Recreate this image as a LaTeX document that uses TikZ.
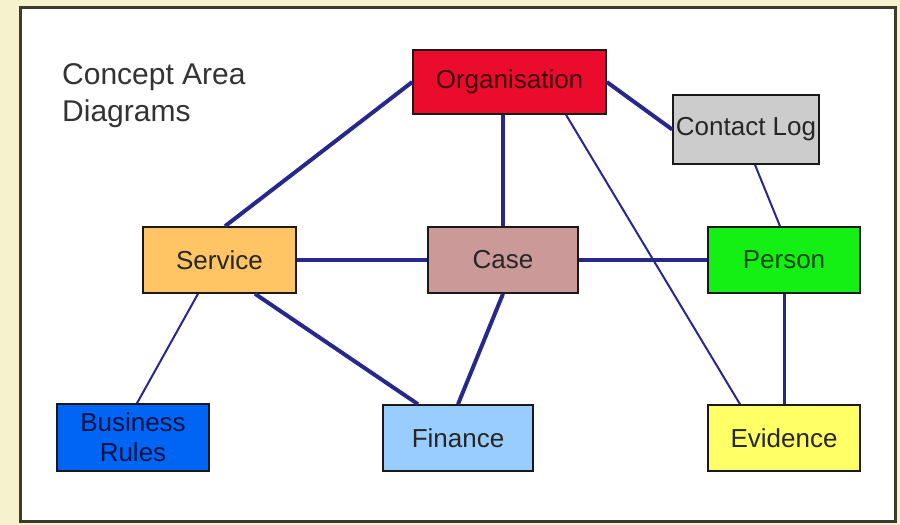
\documentclass[tikz,border=0pt]{standalone}
\usepackage{fontspec}
\setmainfont{Liberation Sans}
\definecolor{bgyellow}{RGB}{246,242,205}
\definecolor{framec}{RGB}{60,60,45}
\definecolor{navy}{RGB}{40,40,140}
\definecolor{orgred}{RGB}{235,12,45}
\definecolor{clgray}{RGB}{204,204,204}
\definecolor{svcorange}{RGB}{255,196,100}
\definecolor{caserose}{RGB}{204,153,153}
\definecolor{pergreen}{RGB}{20,240,20}
\definecolor{brblue}{RGB}{0,100,245}
\definecolor{finblue}{RGB}{153,204,255}
\definecolor{eviyellow}{RGB}{255,255,102}
\begin{document}
\begin{tikzpicture}[x=1pt,y=-1pt,
  box/.style={draw=black!90, line width=1.6pt, inner sep=0pt, align=center,
    font=\fontsize{26}{30}\selectfont, text=black!85},
  link/.style={draw=navy, line width=4pt},
  thinlink/.style={draw=navy, line width=2pt},
  midlink/.style={draw=navy, line width=3pt}]
% background and frame
\fill[bgyellow] (0,0) rectangle (900,525);
\draw[framec, line width=3pt, fill=white] (20,7) rectangle (895,521);
\useasboundingbox (0,0) rectangle (900,525);
% title
\node[anchor=north west, inner sep=0pt, align=left, text=black!80,
  font=\fontsize{30}{37}\selectfont] (title) at (62,63) {Concept Area\\Diagrams};
% nodes
\node[box, fill=orgred, minimum width=193pt, minimum height=64pt, text={rgb,255:red,60;green,0;blue,10}] (org) at (509.5,82) {Organisation};
\node[box, fill=clgray, minimum width=146pt, minimum height=69pt] (cl) at (746,129.5) {Contact Log};
\node[box, fill=svcorange, minimum width=153pt, minimum height=66pt] (svc) at (219.5,260) {Service};
\node[box, fill=caserose, minimum width=150pt, minimum height=66pt] (case) at (503,260) {Case};
\node[box, fill=pergreen, minimum width=152pt, minimum height=66pt, text={rgb,255:red,0;green,70;blue,0}] (per) at (784,260) {Person};
\node[box, fill=brblue, minimum width=152pt, minimum height=67pt, text={rgb,255:red,0;green,20;blue,70}] (br) at (133,437.5) {Business\\Rules};
\node[box, fill=finblue, minimum width=150pt, minimum height=66pt] (fin) at (458,438) {Finance};
\node[box, fill=eviyellow, minimum width=152pt, minimum height=66pt] (evi) at (784,438) {Evidence};
% connectors
\draw[link] (org.west) -- ([xshift=5.5pt]svc.north);
\draw[link] ([xshift=-6.5pt]org.south) -- (case.north);
\draw[link] (org.east) -- (cl.west);
\draw[thinlink] ([xshift=56.5pt]org.south) -- ([xshift=-44pt]evi.north);
\draw[thinlink] ([xshift=9pt]cl.south) -- ([xshift=-4pt]per.north);
\draw[link] (svc.east) -- (case.west);
\draw[link] (case.east) -- (per.west);
\draw[midlink] (per.south) -- (evi.north);
\draw[thinlink] ([xshift=-21.5pt]svc.south) -- ([xshift=4pt]br.north);
\draw[link] ([xshift=35.5pt]svc.south) -- ([xshift=-40pt]fin.north);
\draw[link] (case.south) -- (fin.north);
\end{tikzpicture}
\end{document}
